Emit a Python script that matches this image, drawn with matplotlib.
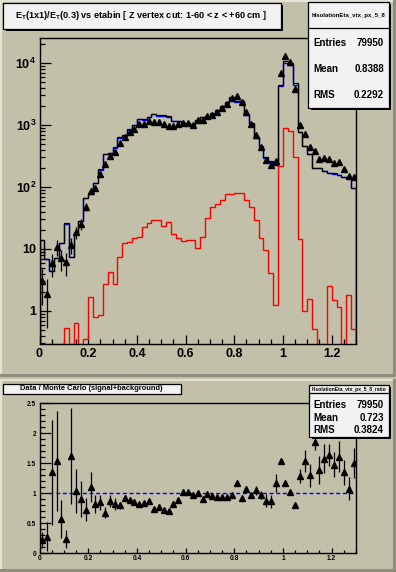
import numpy as np
import matplotlib
matplotlib.use('Agg')
import matplotlib.pyplot as plt
from matplotlib.patches import Rectangle
from matplotlib.ticker import FixedLocator, MultipleLocator, NullFormatter, FuncFormatter

plt.rcParams['font.family'] = ['Liberation Sans', 'DejaVu Sans']
plt.rcParams['font.weight'] = 'bold'
plt.rcParams['mathtext.fontset'] = 'custom'
plt.rcParams['mathtext.rm'] = 'Liberation Sans:bold'
plt.rcParams['mathtext.bf'] = 'Liberation Sans:bold'
plt.rcParams['mathtext.it'] = 'Liberation Sans:bold'

# ---------------- data ----------------
x_range = (0.0, 1.3)
n_bins = 65

mc_total = [13.7, 6.8, 4.45, 7.1, 12.4, 26, 7.3, 17.9, 28.2, 65.7,
            79, 115.5, 191.6, 339, 358, 434, 629, 686, 851, 998,
            1244, 1244, 1348, 1509, 1424, 1424, 1372, 1173, 1173, 1074,
            1074, 1027, 1197, 1348, 1405, 1546, 1754, 1990, 2320, 2810,
            2462, 2480, 1518, 1074, 648, 458, 306, 258, 225, 4395,
            10850, 10100, 4710, 781, 458, 344, 201, 201, 182, 171,
            166, 155, 146, 141, 97]

background = [0, 0, 0, 0, 0, 0.523, 0, 0.65, 0, 0.35,
              1.69, 0.79, 0.86, 2.68, 4.2, 2.68, 7.3, 12.4, 12.9, 14.9,
              15.5, 22.4, 26, 29.2, 29.2, 23.4, 26.9, 17.4, 14.9, 13.6,
              14, 14, 10.2, 15.5, 31.1, 47, 53.8, 61, 76.3, 76.3,
              79, 79, 62, 47.5, 28.9, 15.2, 9.8, 4.05, 1.24, 218,
              887, 807, 308, 14.4, 1.0, 1.55, 0.52, 0, 0, 2.56,
              1.5, 1.15, 0, 1.84, 0.52]

data = [3.0, 1.9, 6.0, 10.9, 7.1, 6.2, 11.8, 18.6, 25.4, 48,
        87, 95, 163, 231, 315, 360, 503, 638, 757, 858,
        1020, 1045, 1173, 1117, 1111, 1025, 960, 974, 1044, 1095,
        1095, 996, 1197, 1213, 1391, 1469, 1649, 1871, 2181, 2726,
        2905, 2306, 1639, 1042, 680, 444, 269, 224, 266, 6768,
        12803, 10302, 3768, 1007, 705, 447, 374, 279, 288, 280,
        246, 250, 197, 152, 146]

ratio = [0.22, 0.28, 1.35, 1.54, 0.57, 0.24, 1.62, 1.04, 0.90, 0.73,
         1.10, 0.82, 0.85, 0.68, 0.88, 0.83, 0.80, 0.93, 0.89, 0.86,
         0.82, 0.84, 0.87, 0.74, 0.78, 0.72, 0.70, 0.83, 0.89, 1.02,
         1.02, 0.97, 1.00, 0.90, 0.99, 0.95, 0.94, 0.94, 0.94, 0.97,
         1.18, 0.93, 1.08, 0.97, 1.05, 0.97, 0.88, 0.87, 1.18, 1.54,
         1.18, 1.02, 0.80, 1.29, 1.54, 1.30, 1.86, 1.39, 1.58, 1.64,
         1.48, 1.61, 1.35, 1.08, 1.50]

ratio_err = [0.13, 0.24, 0.87, 0.83, 0.32, 0.15, 0.80, 0.37, 0.30, 0.19,
             0.25, 0.15, 0.12, 0.09, 0.10, 0.10, 0.06, 0.05, 0.05, 0.04,
             0.04, 0.04, 0.04, 0.04, 0.04, 0.04, 0.04, 0.04, 0.04, 0.04,
             0.04, 0.04, 0.04, 0.04, 0.04, 0.04, 0.03, 0.03, 0.03, 0.03,
             0.03, 0.03, 0.04, 0.04, 0.08, 0.07, 0.11, 0.11, 0.15, 0.03,
             0.02, 0.02, 0.03, 0.11, 0.19, 0.19, 0.14, 0.24, 0.24, 0.19,
             0.21, 0.26, 0.21, 0.19, 0.25]

title_top = r'E$_{\mathbf{T}}$(1x1)/E$_{\mathbf{T}}$(0.3) vs etabin [ Z vertex cut: 1-60 < z < +60 cm ]'
title_bottom = 'Data / Monte Carlo (signal+background)'
stats_top_name = 'hIsolationEta_vtx_px_5_8'
stats_top = [('Entries', '79950'), ('Mean', '0.8388'), ('RMS', '0.2292')]
stats_bot_name = 'hIsolationEta_vtx_px_5_8_ratio'
stats_bot = [('Entries', '79950'), ('Mean', '0.723'), ('RMS', '0.3824')]

# ---------------- figure ----------------
BG = '#c2c0a9'
W, H = 396, 572
fig = plt.figure(figsize=(W / 100, H / 100), dpi=100, facecolor=BG)

def fx(px):
    return px / W

def fy(py):
    return 1 - py / H

edges = np.linspace(x_range[0], x_range[1], n_bins + 1)
centers = 0.5 * (edges[:-1] + edges[1:])
mc = np.array(mc_total, float)
bkg = np.array(background, float)
sig = mc - bkg
dat = np.array(data, float)

# background pads / bevels
bgax = fig.add_axes([0, 0, 1, 1], zorder=-5)
bgax.set_xlim(0, W); bgax.set_ylim(H, 0); bgax.axis('off')
light, dark = '#e4e3d8', '#8f8d7c'
for (y0, y1) in [(0, 377), (379, 572)]:
    bgax.add_patch(Rectangle((0, y0), 2, y1 - y0, color=light, lw=0))
    bgax.add_patch(Rectangle((0, y0), W, 2, color=light, lw=0))
    bgax.add_patch(Rectangle((W - 3, y0), 3, y1 - y0, color=dark, lw=0))
    bgax.add_patch(Rectangle((0, y1 - 3), W, 3, color=dark, lw=0))

ymin, ymax = 0.29, 25000
MS = 4.4

# ---------------- top pad ----------------
ax1 = fig.add_axes([fx(39.5), fy(344.3), fx(356) - fx(39.5), fy(38.3) - fy(344.3)])
ax1.set_facecolor(BG)
ax1.set_yscale('log')
ax1.set_xlim(*x_range)
ax1.set_ylim(ymin, ymax)
ax1.stairs(np.clip(sig, ymin * 1.001, None), edges, color='#0000ff', lw=1.0, zorder=2)
ax1.stairs(np.clip(mc, ymin * 1.001, None), edges, color='black', lw=0.9, zorder=3)
ax1.stairs(np.clip(bkg, ymin * 1.001, None), edges, color='#ff0000', lw=1.0, zorder=4)
ax1.errorbar(centers, dat, yerr=np.sqrt(dat), fmt='^', color='black', ms=MS,
             elinewidth=0.9, capsize=0, zorder=5)

def logfmt(v, pos):
    e = int(round(np.log10(v)))
    if e == 0:
        return '1'
    if e == 1:
        return '10'
    return r'$\mathbf{10^{%d}}$' % e

ax1.yaxis.set_major_locator(FixedLocator([1, 10, 100, 1000, 10000]))
ax1.yaxis.set_major_formatter(FuncFormatter(logfmt))
minors = [m * 10.0 ** e for e in range(-1, 5) for m in range(2, 10)]
ax1.yaxis.set_minor_locator(FixedLocator([v for v in minors if ymin < v < ymax]))
ax1.yaxis.set_minor_formatter(NullFormatter())
ax1.xaxis.set_major_locator(MultipleLocator(0.2))
ax1.xaxis.set_minor_locator(MultipleLocator(0.05))
ax1.xaxis.set_major_formatter(FuncFormatter(lambda v, p: '%g' % round(v, 2)))
ax1.tick_params(axis='y', which='major', direction='in', length=7.7, width=0.9, labelsize=9, pad=2.5)
ax1.tick_params(axis='y', which='minor', direction='in', length=3.7, width=0.9)
ax1.tick_params(axis='x', which='major', direction='in', length=6.7, width=0.9, labelsize=9, pad=2.5)
ax1.tick_params(axis='x', which='minor', direction='in', length=3.4, width=0.9)
for s in ax1.spines.values():
    s.set_linewidth(1.0)

# ---------------- bottom pad ----------------
ax2 = fig.add_axes([fx(39.5), fy(553.3), fx(356) - fx(39.5), fy(403.3) - fy(553.3)])
ax2.set_facecolor(BG)
ax2.set_xlim(*x_range)
ax2.set_ylim(0, 2.5)
ax2.hlines(1.0, 0.04, 1.3, colors='#0000ff', linestyles=(0, (2.9, 1.9)), lw=1.0, zorder=2)
ax2.errorbar(centers, ratio, yerr=ratio_err, fmt='^', color='black', ms=MS,
             elinewidth=0.9, capsize=0, zorder=5)
ax2.yaxis.set_major_locator(MultipleLocator(0.5))
ax2.yaxis.set_minor_locator(MultipleLocator(0.1))
ax2.xaxis.set_major_locator(MultipleLocator(0.2))
ax2.xaxis.set_minor_locator(MultipleLocator(0.05))
ax2.xaxis.set_major_formatter(FuncFormatter(lambda v, p: '%g' % round(v, 2)))
ax2.yaxis.set_major_formatter(FuncFormatter(lambda v, p: '%g' % round(v, 2)))
ax2.tick_params(axis='y', which='major', direction='in', length=7.7, width=0.9, labelsize=4.8, pad=2.5)
ax2.tick_params(axis='y', which='minor', direction='in', length=3.6, width=0.9)
ax2.tick_params(axis='x', which='major', direction='in', length=3.6, width=0.9, labelsize=4.8, pad=1.5)
ax2.tick_params(axis='x', which='minor', direction='in', length=2.2, width=0.9)
for s in ax2.spines.values():
    s.set_linewidth(1.0)

# ---------------- overlay boxes ----------------
ov = fig.add_axes([0, 0, 1, 1], zorder=10)
ov.set_xlim(0, W); ov.set_ylim(H, 0); ov.axis('off')
ov.patch.set_alpha(0)

def pave(x0, y0, x1, y1, shadow=2.2):
    ov.add_patch(Rectangle((x0 + shadow, y0 + shadow), x1 - x0, y1 - y0, color='black', lw=0))
    ov.add_patch(Rectangle((x0, y0), x1 - x0, y1 - y0, facecolor='#f2f2f2',
                           edgecolor='black', lw=0.9))

# top title
pave(3.3, 2.7, 280.5, 28.5)
ov.text(141.5, 15.2, title_top, ha='center', va='center', fontsize=6.6, fontweight='bold')

# top stats
pave(308.3, 1.7, 389.0, 108.3)
ov.plot([308.3, 389.0], [28.3, 28.3], color='black', lw=0.9)
ov.text(348.6, 15.3, stats_top_name, ha='center', va='center', fontsize=4.3, fontweight='bold')
for (lab, val), yc in zip(stats_top, [42.7, 69.3, 95.0]):
    ov.text(313.3, yc, lab, ha='left', va='center', fontsize=7, fontweight='bold')
    ov.text(384.0, yc, val, ha='right', va='center', fontsize=7, fontweight='bold')

# bottom title
pave(3.3, 384.3, 180.5, 393.6, shadow=1.6)
ov.text(91.5, 388.8, title_bottom, ha='center', va='center', fontsize=5.4, fontweight='bold')

# bottom stats
pave(309.3, 384.7, 389.0, 436.7)
ov.plot([309.3, 389.0], [393.3, 393.3], color='black', lw=0.9)
ov.text(349.0, 389.0, stats_bot_name, ha='center', va='center', fontsize=3.6, fontweight='bold')
for (lab, val), yc in zip(stats_bot, [405.0, 417.7, 430.0]):
    ov.text(313.3, yc, lab, ha='left', va='center', fontsize=7, fontweight='bold')
    ov.text(384.0, yc, val, ha='right', va='center', fontsize=7, fontweight='bold')

fig.savefig('out.png', dpi=100, facecolor=BG)
